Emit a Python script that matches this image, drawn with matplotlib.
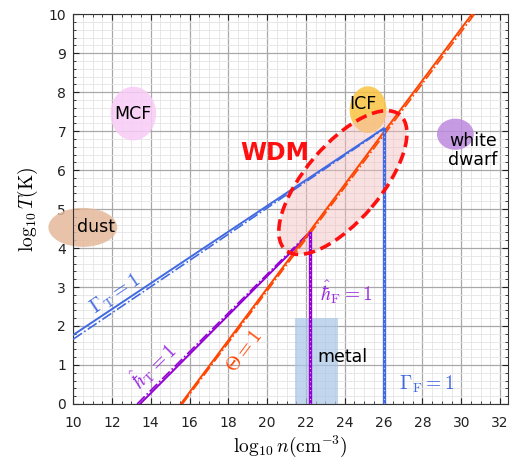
import numpy as np
import matplotlib
matplotlib.use("Agg")
import matplotlib.pyplot as plt
from matplotlib.patches import Ellipse, Rectangle
from matplotlib.transforms import Affine2D
from matplotlib.ticker import MultipleLocator

plt.rcParams["mathtext.fontset"] = "cm"

# --- data (log10 n [cm^-3], log10 T [K]) --------------------------------
gammaT_n = [10.0, 26.0]
gammaT_T = [1.77, 7.07]
gammaT_exact_n = [10.0, 26.0]
gammaT_exact_T = [1.66, 7.05]

hbarT_n = [13.45, 22.2]
hbarT_T = [0.0, 4.38]
hbarT_exact_n = [13.3, 22.2]
hbarT_exact_T = [0.0, 4.42]

theta_n = [15.55, 30.55]
theta_T = [0.0, 10.0]
theta_exact_n = [15.63, 30.68]
theta_exact_T = [0.0, 10.0]

gammaF_n = [26.0, 26.0]
gammaF_T = [0.0, 7.05]
hbarF_n = [22.2, 22.2]
hbarF_T = [0.0, 4.38]

# regions: name, center n, center T, width (n), height (T), colour
regions = ["MCF", "dust", "ICF", "white dwarf"]
region_n = [13.1, 10.5, 25.2, 29.7]
region_T = [7.45, 4.53, 7.55, 6.92]
region_w = [2.35, 3.55, 1.9, 1.9]
region_h = [1.38, 1.0, 1.2, 0.8]
region_c = ["#F9CBF7", "#E4B99A", "#F9C441", "#BE8ADE"]

metal_n = (21.45, 23.65)
metal_T = (0.0, 2.2)

wdm_center = (23.9, 5.68)
wdm_axes = (9.1, 3.9)      # in n-units (T scaled x2)
wdm_angle = 49.6

BLUE, PURPLE, ORANGE = "#4169E1", "#9400D3", "#FF4500"

fig = plt.figure(figsize=(5.15, 4.73), dpi=100)
ax = fig.add_axes([0.142, 0.146, 0.844, 0.824])
ax.set_xlim(10, 32.4)
ax.set_ylim(0, 10)

# grid
ax.xaxis.set_major_locator(MultipleLocator(2))
ax.xaxis.set_minor_locator(MultipleLocator(0.5))
ax.yaxis.set_major_locator(MultipleLocator(1))
ax.yaxis.set_minor_locator(MultipleLocator(0.2))
ax.grid(which="major", color="#A8A8A8", lw=0.9)
ax.grid(which="minor", color="#E4E4E4", lw=0.6)
ax.set_axisbelow(True)
ax.tick_params(which="both", direction="in", top=True, right=True,
               labelsize=10, colors="#222222")
ax.tick_params(which="major", length=4)
ax.tick_params(which="minor", length=2)
ax.tick_params(axis="x", pad=9)
ax.tick_params(axis="y", pad=5)
for s in ax.spines.values():
    s.set_color("#333333")

# shaded regions
for name, n, T, w, h, c in zip(regions, region_n, region_T, region_w,
                                region_h, region_c):
    ax.add_patch(Ellipse((n, T), w, h, color=c, alpha=0.85, lw=0,
                         clip_on=False, zorder=1))
ax.add_patch(Rectangle((metal_n[0], metal_T[0]), metal_n[1] - metal_n[0],
                       metal_T[1] - metal_T[0], color="#A9C6E6", alpha=0.7,
                       lw=0, zorder=1))

# WDM ellipse (drawn in a space where T is doubled so angles match pixels)
scale = Affine2D().scale(1, 0.5) + ax.transData
ax.add_patch(Ellipse((wdm_center[0], 2 * wdm_center[1]), *wdm_axes,
                     angle=wdm_angle, transform=scale, facecolor="#F5BDBD",
                     alpha=0.45, lw=0, zorder=1.5))
ax.add_patch(Ellipse((wdm_center[0], 2 * wdm_center[1]), *wdm_axes,
                     angle=wdm_angle, transform=scale, facecolor="none",
                     edgecolor="#FF1010", lw=2.6, ls=(0, (3.2, 1.6)), zorder=5))

# boundary lines
ax.plot(gammaT_n, gammaT_T, color=BLUE, lw=1.4, zorder=3)
ax.plot(gammaT_exact_n, gammaT_exact_T, color=BLUE, lw=1.2, ls="-.", zorder=3)
ax.plot(hbarT_n, hbarT_T, color=PURPLE, lw=1.4, zorder=3)
ax.plot(hbarT_exact_n, hbarT_exact_T, color=PURPLE, lw=1.2, ls="-.", zorder=3)
ax.plot(theta_n, theta_T, color=ORANGE, lw=1.4, zorder=3)
ax.plot(theta_exact_n, theta_exact_T, color=ORANGE, lw=1.2, ls="-.", zorder=3)
ax.plot(gammaF_n, gammaF_T, color=BLUE, lw=2.4, zorder=3)
ax.plot(gammaF_n, gammaF_T, color="#C3D0F7", lw=0.8, ls=(0, (1, 3)), zorder=3)
ax.plot(hbarF_n, hbarF_T, color=PURPLE, lw=2.4, zorder=3)
ax.plot(hbarF_n, hbarF_T, color="#E3BDF7", lw=0.8, ls=(0, (1, 3)), zorder=3)

# region labels
ax.text(13.1, 7.45, "MCF", fontsize=12.5, ha="center", va="center", zorder=6)
ax.text(11.2, 4.55, "dust", fontsize=12.5, ha="center", va="center", zorder=6)
ax.text(24.95, 7.7, "ICF", fontsize=12.5, ha="center", va="center", zorder=6)
ax.text(30.6, 6.5, "white\ndwarf", fontsize=12.5, ha="center", va="center",
        linespacing=1.1, zorder=6)
ax.text(23.9, 1.2, "metal", fontsize=12.5, ha="center", va="center", zorder=6)
ax.text(20.4, 6.45, "WDM", fontsize=17, fontweight="bold", color="#FF1010",
        ha="center", va="center", zorder=6)

# line labels
ax.text(12.2, 2.8, r"$\Gamma_{\rm T}=1$", color=BLUE, fontsize=14,
        rotation=np.degrees(np.arctan(1 / 3)), transform_rotates_text=True,
        ha="center", va="center", rotation_mode="anchor", zorder=6)
ax.text(14.1, 1.0, r"$\hat{\hbar}_{\rm T}=1$", color="#9A2BE0", fontsize=14,
        rotation=np.degrees(np.arctan(1 / 2)), transform_rotates_text=True,
        ha="center", va="center", rotation_mode="anchor", zorder=6)
ax.text(18.8, 1.34, r"$\Theta=1$", color=ORANGE, fontsize=14,
        rotation=np.degrees(np.arctan(2 / 3)), transform_rotates_text=True,
        ha="center", va="center", rotation_mode="anchor", zorder=6)
ax.text(24.1, 2.87, r"$\hat{\hbar}_{\rm F}=1$", color="#9A2BE0", fontsize=14,
        ha="center", va="center", zorder=6)
ax.text(28.2, 0.49, r"$\Gamma_{\rm F}=1$", color=BLUE, fontsize=14,
        ha="center", va="center", zorder=6)

ax.set_xlabel(r"$\log_{10}n(\mathrm{cm}^{-3})$", fontsize=14, labelpad=2)
ax.set_ylabel(r"$\log_{10}T(\mathrm{K})$", fontsize=14, labelpad=6)

fig.savefig("out.png", dpi=100)
